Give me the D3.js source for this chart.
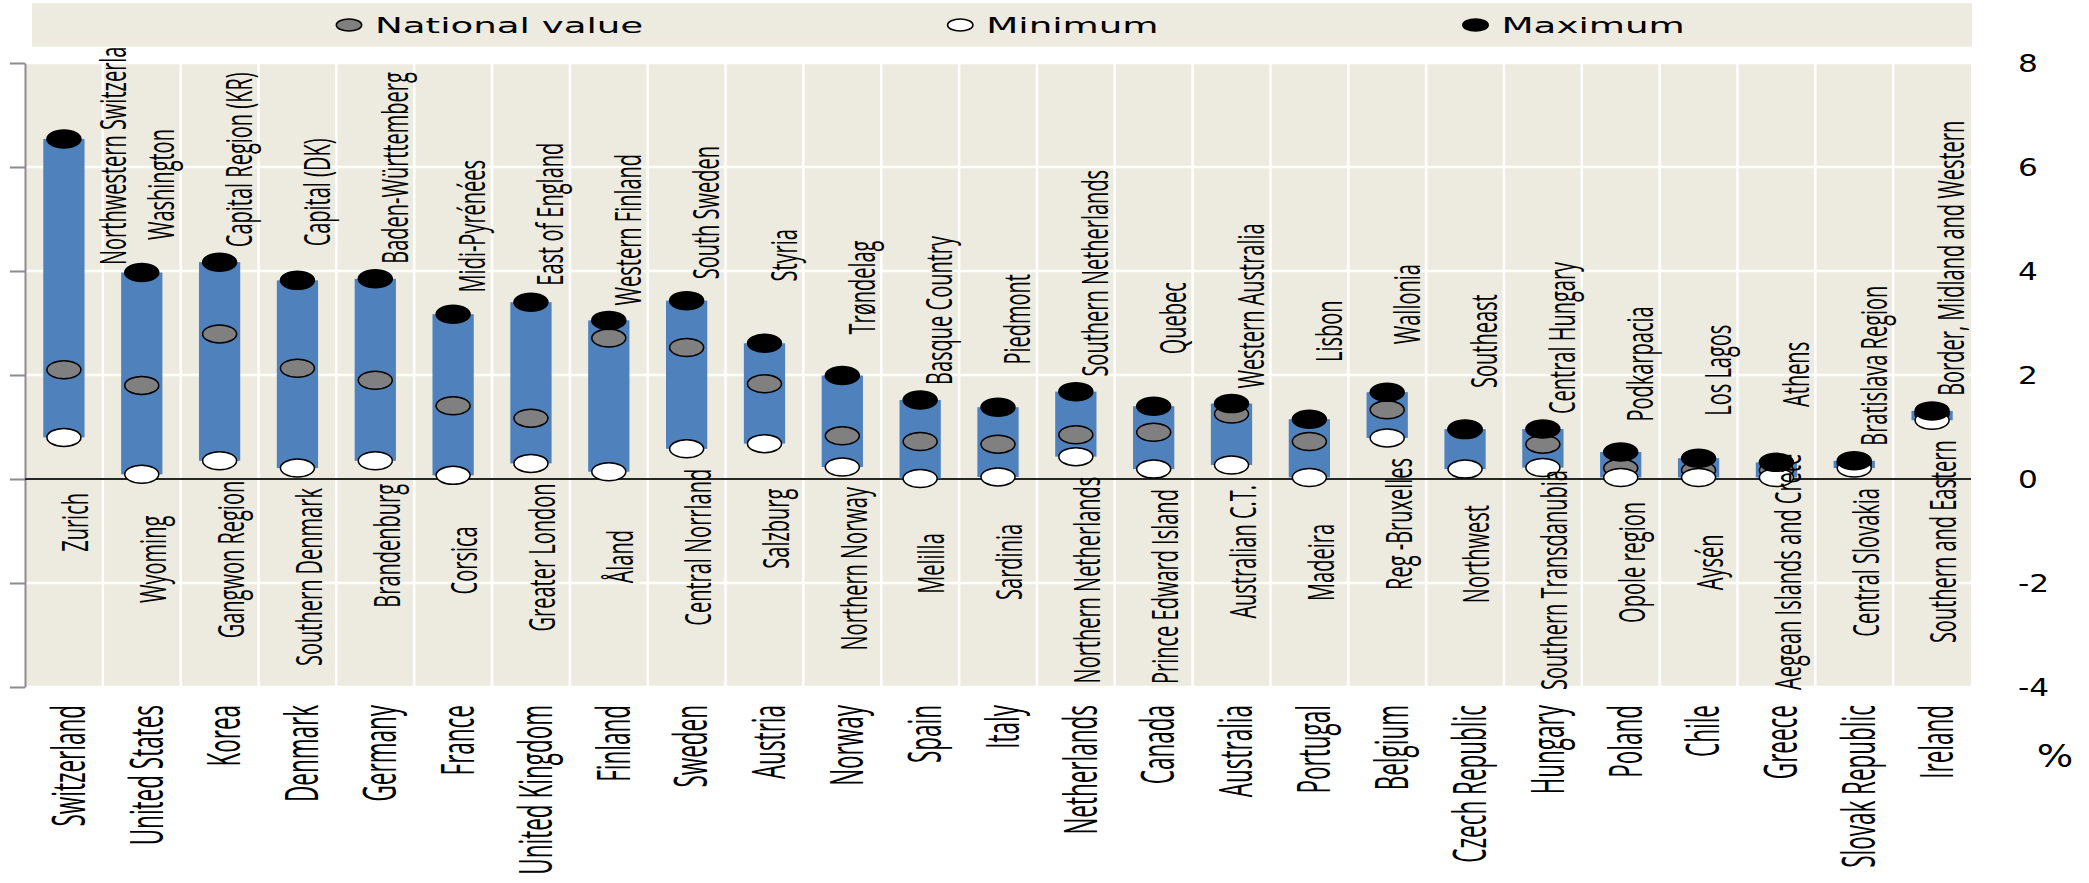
<!DOCTYPE html>
<html>
<head>
<meta charset="utf-8">
<script src="https://cdn.jsdelivr.net/npm/d3@7"></script>
<style>
  html, body { margin: 0; padding: 0; background: #fff; }
  svg { display: block; }
</style>
</head>
<body>
<div id="chart"></div>
<script>
// chart values
const countries = ["Switzerland", "United States", "Korea", "Denmark", "Germany", "France",
    "United Kingdom", "Finland", "Sweden", "Austria", "Norway", "Spain", "Italy", "Netherlands",
    "Canada", "Australia", "Portugal", "Belgium", "Czech Republic", "Hungary", "Poland", "Chile",
    "Greece", "Slovak Republic", "Ireland"]

const maxRegions = ["Northwestern Switzerland", "Washington", "Capital Region (KR)", "Capital (DK)",
    "Baden-Württemberg", "Midi-Pyrénées", "East of England", "Western Finland", "South Sweden",
    "Styria", "Trøndelag", "Basque Country", "Piedmont", "Southern Netherlands", "Quebec",
    "Western Australia", "Lisbon", "Wallonia", "Southeast", "Central Hungary", "Podkarpacia",
    "Los Lagos", "Athens", "Bratislava Region", "Border, Midland and Western"]

const minRegions = ["Zurich", "Wyoming", "Gangwon Region", "Southern Denmark", "Brandenburg",
    "Corsica", "Greater London", "Åland", "Central Norrland", "Salzburg", "Northern Norway",
    "Melilla", "Sardinia", "Northern Netherlands", "Prince Edward Island", "Australian C.T.",
    "Madeira", "Reg -Bruxelles", "Northwest", "Southern Transdanubia", "Opole region", "Aysén",
    "Aegean Islands and Crete", "Central Slovakia", "Southern and Eastern"]

const maxValues = [6.54, 3.97, 4.17, 3.82, 3.85, 3.17, 3.40, 3.05, 3.43, 2.61, 1.99, 1.52, 1.38,
    1.68, 1.40, 1.45, 1.15, 1.67, 0.96, 0.96, 0.52, 0.40, 0.32, 0.35, 1.31]
const nationalValues = [2.10, 1.80, 2.79, 2.13, 1.90, 1.41, 1.17, 2.71, 2.53, 1.83, 0.83, 0.72, 0.67,
    0.85, 0.90, 1.25, 0.72, 1.33, 0.95, 0.67, 0.21, 0.17, 0.17, 0.30, 1.25]
const minValues = [0.80, 0.09, 0.35, 0.21, 0.35, 0.07, 0.30, 0.14, 0.58, 0.68, 0.23, 0.01, 0.04,
    0.43, 0.19, 0.27, 0.03, 0.79, 0.19, 0.22, 0.03, 0.03, 0.03, 0.21, 1.13]

const yTicks = [-4, -2, 0, 2, 4, 6, 8]
const legendLabels = ["National value", "Minimum", "Maximum"]
const legendFills = ["#808080", "#ffffff", "#000000"]

const width = 2089, height = 883
const margin = {left: 25, right: 118, top: 63, bottom: 196}

const bgColor = "#EDEBE0"
const barColor = "#4F81BD"
const labelFont = "'Open Sans', 'Noto Sans', sans-serif"
const numFont = "'DejaVu Sans', Verdana, sans-serif"
const stretch = 1.85   // the picture is wider than its text

const svg = d3.select("#chart")
    .append("svg")
    .attr("width", width)
    .attr("height", height)

const x = d3.scaleBand()
    .domain(countries)
    .range([margin.left, width - margin.right])
const y = d3.scaleLinear()
    .domain([-4, 8])
    .range([height - margin.bottom, margin.top])
const cx = (d) => x(d) + x.bandwidth() / 2

// plot background
svg.append("rect")
    .attr("x", x.range()[0])
    .attr("y", y(8))
    .attr("width", x.range()[1] - x.range()[0])
    .attr("height", y(-4) - y(8))
    .attr("fill", bgColor)

// white grid
svg.append("g")
    .selectAll("line")
    .data(yTicks.filter(v => v !== 0))
    .join("line")
    .attr("x1", x.range()[0]).attr("x2", x.range()[1])
    .attr("y1", d => y(d)).attr("y2", d => y(d))
    .attr("stroke", "#fff")
    .attr("stroke-width", 2.5)

svg.append("g")
    .selectAll("line")
    .data(countries.slice(1))
    .join("line")
    .attr("x1", d => x(d)).attr("x2", d => x(d))
    .attr("y1", y(8)).attr("y2", y(-4))
    .attr("stroke", "#fff")
    .attr("stroke-width", 2.5)

// left axis, ticks only
const yAxis = svg.append("g")
    .attr("transform", `translate(${margin.left},0)`)
    .call(d3.axisLeft(y).tickValues(yTicks).tickFormat("").tickSize(15).tickSizeOuter(0))
yAxis.selectAll("path, line").attr("stroke", "#8c8c8c").attr("stroke-width", 2)

// zero line
svg.append("line")
    .attr("x1", x.range()[0]).attr("x2", x.range()[1])
    .attr("y1", y(0)).attr("y2", y(0))
    .attr("stroke", "#262626")
    .attr("stroke-width", 2)

// right tick labels
svg.append("g")
    .selectAll("text")
    .data(yTicks)
    .join("text")
    .attr("transform", d => `translate(2018,${y(d) + 8.7}) scale(1.3,1)`)
    .attr("font-family", numFont)
    .attr("font-size", 24)
    .attr("fill", "#000")
    .text(d => String(d))

svg.append("text")
    .attr("transform", "translate(2055,767) scale(1.2,1)")
    .attr("text-anchor", "middle")
    .attr("font-family", numFont)
    .attr("font-size", 32)
    .text("%")

// range bars
const barW = x.bandwidth() * 0.53
svg.append("g")
    .selectAll("rect")
    .data(countries)
    .join("rect")
    .attr("x", d => cx(d) - barW / 2)
    .attr("width", barW)
    .attr("y", (d, i) => y(maxValues[i]))
    .attr("height", (d, i) => y(minValues[i]) - y(maxValues[i]))
    .attr("fill", barColor)

// markers: national, then minimum, then maximum on top
function markers(values, fill) {
    svg.append("g")
        .selectAll("ellipse")
        .data(countries)
        .join("ellipse")
        .attr("cx", d => cx(d))
        .attr("cy", (d, i) => y(values[i]))
        .attr("rx", 17)
        .attr("ry", 9)
        .attr("fill", fill)
        .attr("stroke", "#000")
        .attr("stroke-width", 1.5)
}
markers(nationalValues, "#808080")
markers(minValues, "#ffffff")
markers(maxValues, "#000000")

// region names above the maximum
svg.append("g")
    .selectAll("text")
    .data(countries)
    .join("text")
    .attr("font-family", labelFont)
    .attr("font-size", 20)
    .attr("text-anchor", "middle")
    .attr("dominant-baseline", "central")
    .text((d, i) => maxRegions[i])
    .each(function (d, i) {
        const len = this.getComputedTextLength()
        let c = y(maxValues[i]) - Math.max(88, len / 2 + 15)
        let dx = 18
        if (c - len / 2 < 22) {   // pushed back inside the chart
            c = 22 + len / 2
            dx = 48
        }
        d3.select(this).attr("transform",
            `translate(${cx(d) + dx},${c}) scale(${stretch},1) rotate(-90)`)
    })

// region names below the minimum
svg.append("g")
    .selectAll("text")
    .data(countries)
    .join("text")
    .attr("font-family", labelFont)
    .attr("font-size", 20)
    .attr("text-anchor", "middle")
    .attr("dominant-baseline", "central")
    .text((d, i) => minRegions[i])
    .each(function (d, i) {
        const len = this.getComputedTextLength()
        let c = y(minValues[i]) + Math.max(85, len / 2 + 20)
        if (c + len / 2 > 690) c = 690 - len / 2
        d3.select(this).attr("transform",
            `translate(${cx(d) + 10},${c}) scale(${stretch},1) rotate(-90)`)
    })

// country names
svg.append("g")
    .selectAll("text")
    .data(countries)
    .join("text")
    .attr("font-family", labelFont)
    .attr("font-size", 22.5)
    .attr("text-anchor", "end")
    .attr("dominant-baseline", "central")
    .attr("transform", d => `translate(${cx(d) + 3},705) scale(2.05,1) rotate(-90)`)
    .text(d => d)

// legend
const legend = svg.append("g")
legend.append("rect")
    .attr("x", 32).attr("y", 3.3)
    .attr("width", 1940).attr("height", 43.4)
    .attr("fill", bgColor)

let lx = 349
legendLabels.forEach((name, i) => {
    legend.append("ellipse")
        .attr("cx", lx).attr("cy", 25)
        .attr("rx", 12.7).attr("ry", 6)
        .attr("fill", legendFills[i])
        .attr("stroke", "#000")
        .attr("stroke-width", 1.5)
    const t = legend.append("text")
        .attr("transform", `translate(${lx + 26},32.5) scale(1.73,1)`)
        .attr("font-family", numFont)
        .attr("font-size", 21.5)
        .attr("fill", "#000")
        .text(name)
    const w = t.node().getComputedTextLength() * 1.73
    lx = lx + 26 + w + 317
})
</script>
</body>
</html>
